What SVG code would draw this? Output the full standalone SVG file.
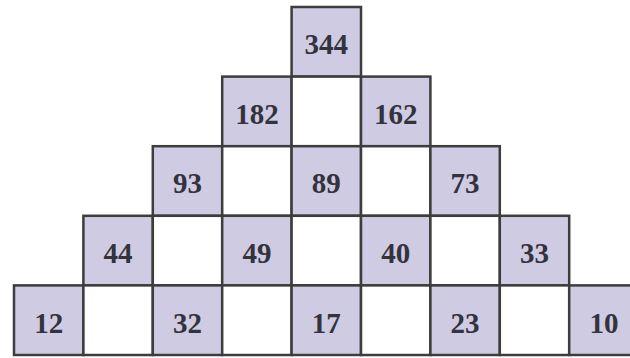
<svg xmlns="http://www.w3.org/2000/svg" width="630" height="358" viewBox="0 0 630 358">
<style>
.s{fill:#cfcbe2;stroke:#3d3d3d;stroke-width:2.5}
.w{fill:#ffffff;stroke:#3d3d3d;stroke-width:2.5}
.t{font-family:"Liberation Serif",serif;font-weight:bold;font-size:29px;fill:#33333d;text-anchor:middle;dominant-baseline:central}
</style>
<rect width="630" height="358" fill="#ffffff"/>
<g id="r0c4"><rect class="s" x="291.6" y="7" width="69.4" height="69.6"/><text class="t" x="326.3" y="44">344</text></g>
<g id="r1c3"><rect class="s" x="222.2" y="76.6" width="69.4" height="69.6"/><text class="t" x="256.9" y="113.5">182</text></g>
<g id="r1c4"><rect class="w" x="291.6" y="76.6" width="69.4" height="69.6"/></g>
<g id="r1c5"><rect class="s" x="361" y="76.6" width="69.4" height="69.6"/><text class="t" x="395.7" y="113.5">162</text></g>
<g id="r2c2"><rect class="s" x="152.8" y="146.2" width="69.4" height="69.6"/><text class="t" x="187.5" y="183">93</text></g>
<g id="r2c3"><rect class="w" x="222.2" y="146.2" width="69.4" height="69.6"/></g>
<g id="r2c4"><rect class="s" x="291.6" y="146.2" width="69.4" height="69.6"/><text class="t" x="326.3" y="183">89</text></g>
<g id="r2c5"><rect class="w" x="361" y="146.2" width="69.4" height="69.6"/></g>
<g id="r2c6"><rect class="s" x="430.4" y="146.2" width="69.4" height="69.6"/><text class="t" x="465.1" y="183">73</text></g>
<g id="r3c1"><rect class="s" x="83.4" y="215.8" width="69.4" height="69.6"/><text class="t" x="118.1" y="252.5">44</text></g>
<g id="r3c2"><rect class="w" x="152.8" y="215.8" width="69.4" height="69.6"/></g>
<g id="r3c3"><rect class="s" x="222.2" y="215.8" width="69.4" height="69.6"/><text class="t" x="256.9" y="252.5">49</text></g>
<g id="r3c4"><rect class="w" x="291.6" y="215.8" width="69.4" height="69.6"/></g>
<g id="r3c5"><rect class="s" x="361" y="215.8" width="69.4" height="69.6"/><text class="t" x="395.7" y="252.5">40</text></g>
<g id="r3c6"><rect class="w" x="430.4" y="215.8" width="69.4" height="69.6"/></g>
<g id="r3c7"><rect class="s" x="499.8" y="215.8" width="69.4" height="69.6"/><text class="t" x="534.5" y="252.5">33</text></g>
<g id="r4c0"><rect class="s" x="14" y="285.4" width="69.4" height="69.6"/><text class="t" x="48.7" y="322.5">12</text></g>
<g id="r4c1"><rect class="w" x="83.4" y="285.4" width="69.4" height="69.6"/></g>
<g id="r4c2"><rect class="s" x="152.8" y="285.4" width="69.4" height="69.6"/><text class="t" x="187.5" y="322.5">32</text></g>
<g id="r4c3"><rect class="w" x="222.2" y="285.4" width="69.4" height="69.6"/></g>
<g id="r4c4"><rect class="s" x="291.6" y="285.4" width="69.4" height="69.6"/><text class="t" x="326.3" y="322.5">17</text></g>
<g id="r4c5"><rect class="w" x="361" y="285.4" width="69.4" height="69.6"/></g>
<g id="r4c6"><rect class="s" x="430.4" y="285.4" width="69.4" height="69.6"/><text class="t" x="465.1" y="322.5">23</text></g>
<g id="r4c7"><rect class="w" x="499.8" y="285.4" width="69.4" height="69.6"/></g>
<g id="r4c8"><rect class="s" x="569.2" y="285.4" width="69.4" height="69.6"/><text class="t" x="603.9" y="322.5">10</text></g>
<g id="connectors"></g>
</svg>
